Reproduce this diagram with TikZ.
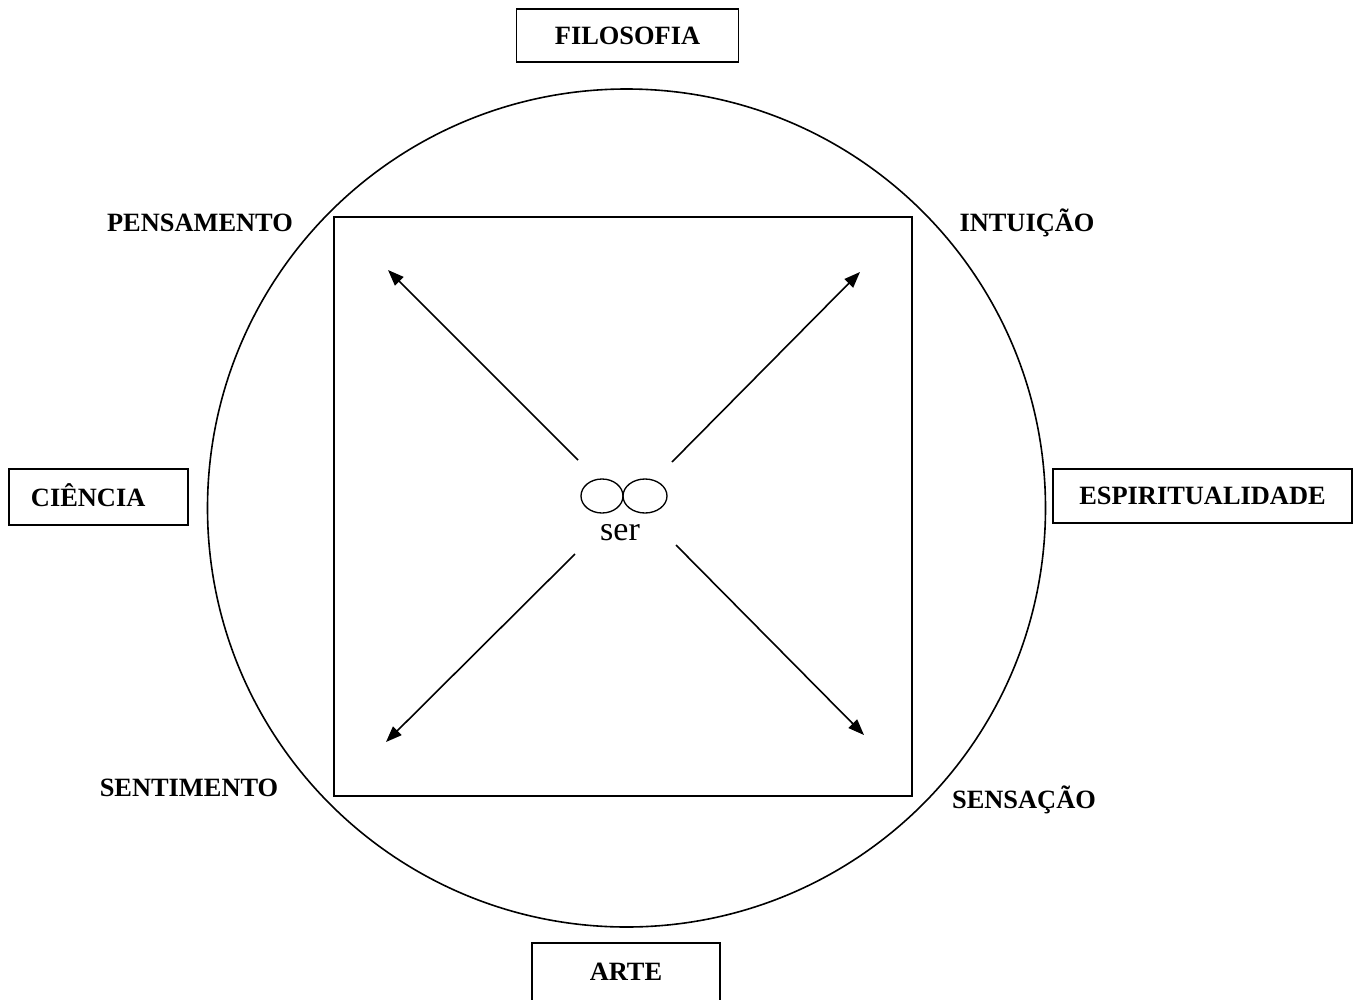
\documentclass[tikz,border=0pt]{standalone}
\usepackage{fontspec}
\setmainfont{Liberation Serif}
\usetikzlibrary{arrows.meta,shapes.geometric}
\begin{document}
\begin{tikzpicture}[x=0.75pt,y=-0.75pt,
  lbl/.style={font=\fontsize{19.8}{23}\selectfont\bfseries, inner sep=0pt},
  box/.style={draw, line width=1.2pt, font=\fontsize{19.8}{23}\selectfont\bfseries},
  ln/.style={line width=1.2pt},
  arr/.style={line width=1.2pt, -{Triangle[length=12pt,width=9pt]}}]
\clip (0,0) rectangle (1361,1000);
\fill[white] (0,0) rectangle (1361,1000);
% circle and square
\node[draw, ln, circle, minimum size=838*0.75pt, inner sep=0pt] (circ) at (626.5,508) {};
\node[draw, ln, rectangle, minimum width=578*0.75pt, minimum height=579*0.75pt, inner sep=0pt] (sq) at (623,506.5) {};
% boxes
\node[box, minimum width=222*0.75pt, minimum height=53*0.75pt, inner sep=0pt] (filo) at (627.5,35.5) {FILOSOFIA};
\node[box, minimum height=56*0.75pt, inner xsep=16.5pt, inner ysep=0pt, text width=101.25pt, align=left, text height=13.5pt, text depth=0pt] (cien) at (98.5,497) {CIÊNCIA};
\node[box, minimum width=299*0.75pt, minimum height=54*0.75pt, inner sep=0pt] (espi) at (1202.5,496) {ESPIRITUALIDADE};
\node[box, minimum width=188*0.75pt, minimum height=58*0.75pt, inner sep=0pt] (arte) at (626,972) {ARTE};
% labels
\node[lbl] (pens) at (200,223) {PENSAMENTO};
\node[lbl] (intu) at (1027,223) {INTUIÇÃO};
\node[lbl] (sent) at (189,788) {SENTIMENTO};
\node[lbl] (sens) at (1024,800) {SENSAÇÃO};
% center
\node[draw, ellipse, line width=1pt, minimum width=42*0.75pt, minimum height=34*0.75pt, inner sep=0pt] (e1) at (602,496) {};
\node[draw, ellipse, line width=1pt, minimum width=44*0.75pt, minimum height=34*0.75pt, inner sep=0pt] (e2) at (645,496) {};
\node[anchor=base, inner sep=0pt, font=\fontsize{25.5}{30}\selectfont] (ser) at (620,540) {ser};
% arrows
\coordinate (nws) at (578,460); \coordinate (nwe) at (388,270);
\coordinate (nes) at (672,462); \coordinate (nee) at (860,272);
\coordinate (sws) at (575,554); \coordinate (swe) at (386,742);
\coordinate (ses) at (676,545); \coordinate (see) at (864,735);
\draw[arr] (nws) -- (nwe);
\draw[arr] (nes) -- (nee);
\draw[arr] (sws) -- (swe);
\draw[arr] (ses) -- (see);
\end{tikzpicture}
\end{document}
